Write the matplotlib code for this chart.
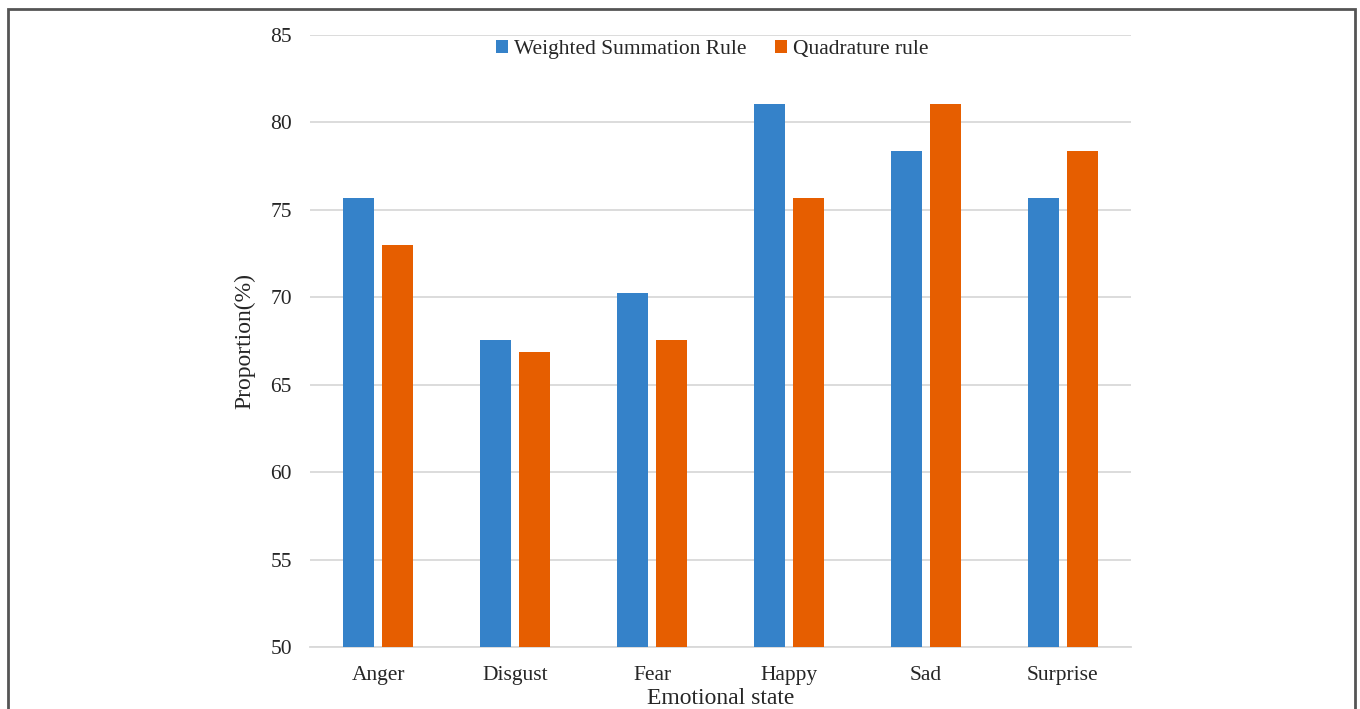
import matplotlib
matplotlib.use("Agg")
import matplotlib.pyplot as plt
from matplotlib.patches import Rectangle
import numpy as np

categories = ["Anger", "Disgust", "Fear", "Happy", "Sad", "Surprise"]
weighted_sum = [75.68, 67.57, 70.27, 81.08, 78.38, 75.68]
quadrature = [72.97, 66.87, 67.57, 75.68, 81.08, 78.38]
series_names = ["Weighted Summation Rule", "Quadrature rule"]
y_ticks = [50, 55, 60, 65, 70, 75, 80, 85]

plt.rcParams["font.family"] = ["Liberation Serif", "DejaVu Serif"]

W, H = 1360, 709
fig = plt.figure(figsize=(W / 100, H / 100), dpi=100)
ax = fig.add_axes([310 / W, 1 - 647 / H, (1131 - 310) / W, (647 - 35) / H])

x = np.arange(len(categories))
bw = 0.227
off = 0.1425
blue = "#3582C9"
orange = "#E65E00"
ax.bar(x - off, weighted_sum, width=bw, color=blue, label=series_names[0], zorder=3)
ax.bar(x + off, quadrature, width=bw, color=orange, label=series_names[1], zorder=3)

ax.set_xlim(-0.5, len(categories) - 0.5)
ax.set_ylim(50, 85)
ax.set_yticks(y_ticks)
ax.set_xticks(x)
ax.set_xticklabels(categories)
ax.tick_params(axis="both", length=0, labelsize=15.5, colors="#262626")
ax.tick_params(axis="y", pad=13)
ax.tick_params(axis="x", pad=13.5)
ax.grid(axis="y", color="#d9d9d9", linewidth=1.3, zorder=0)
for s in ["top", "right", "left"]:
    ax.spines[s].set_visible(False)
ax.spines["bottom"].set_color("#d9d9d9")
ax.spines["bottom"].set_linewidth(1.3)

ax.set_ylabel("Proportion(%)", fontsize=17, color="#262626", labelpad=11)
ax.set_xlabel("Emotional state", fontsize=17, color="#262626", labelpad=2.5)

leg = ax.legend(loc="upper center", bbox_to_anchor=(0.49, 1.006), ncol=2, frameon=False,
                fontsize=15.5, handlelength=0.55, handleheight=0.55, handletextpad=0.3,
                columnspacing=1.3, borderaxespad=0.0)
for t in leg.get_texts():
    t.set_color("#262626")

fig.patches.append(Rectangle((8 / W, -0.1), (1355 - 8) / W, 1.1 - 9 / H,
                             transform=fig.transFigure, fill=False,
                             edgecolor="#555555", linewidth=2))

fig.savefig("out.png", dpi=100)
